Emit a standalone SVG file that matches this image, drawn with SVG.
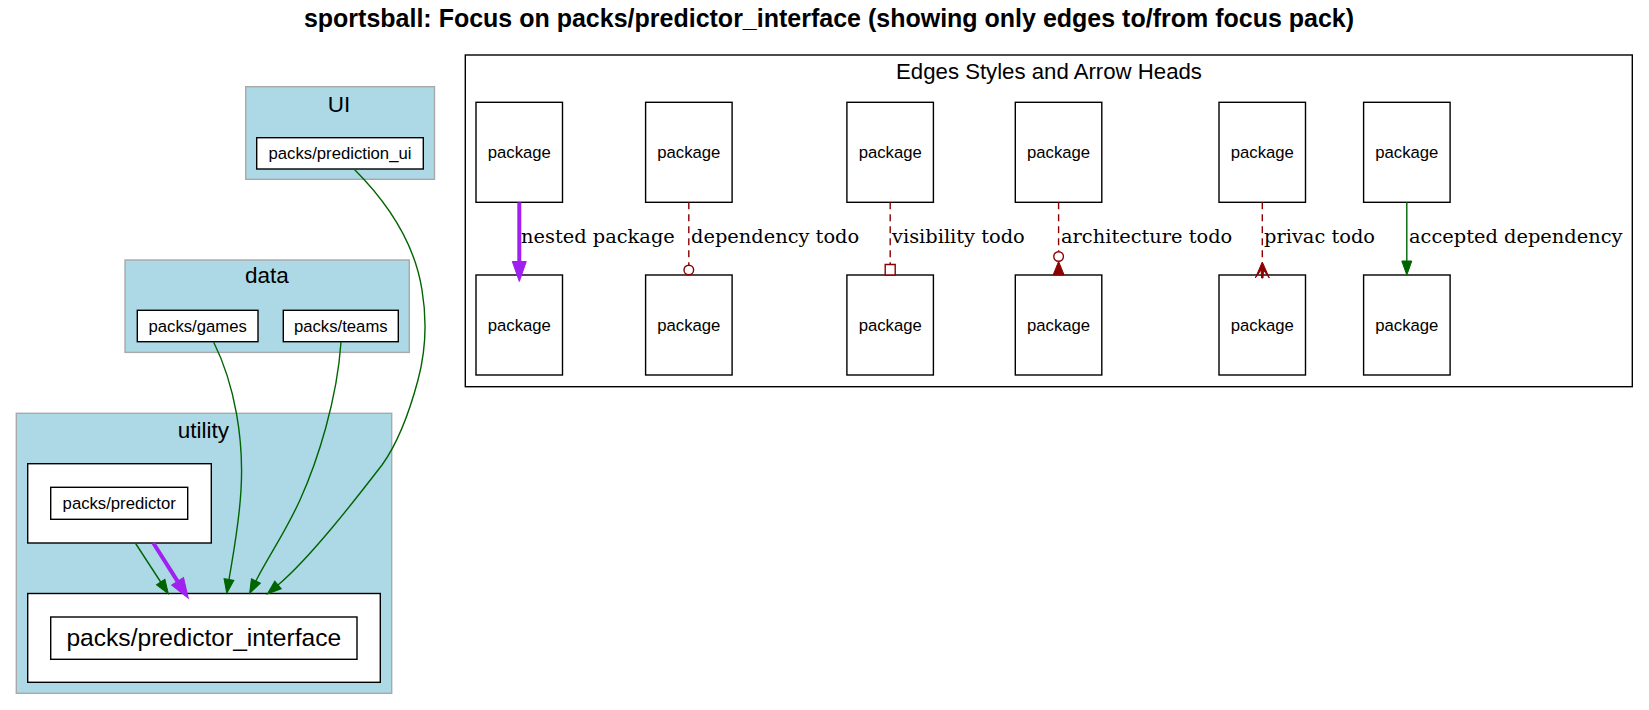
<svg xmlns="http://www.w3.org/2000/svg" width="1649" height="710" viewBox="0 0 1649 710">
<style>
.cl{fill:#add8e6;stroke:#a9a9a9;stroke-width:1.4}
.nd{fill:#fff;stroke:#000;stroke-width:1.4}
.t{font-family:"Liberation Sans",Arial,sans-serif;fill:#000;text-anchor:middle}
.n{font-size:16.7px}
.cll{font-size:22.5px}
.el{font-family:"DejaVu Serif",serif;font-size:19.4px;fill:#000}
.g{fill:none;stroke:#006400;stroke-width:1.4}
.p{fill:none;stroke:#a020f0;stroke-width:4}
.r{fill:none;stroke:#8b0000;stroke-width:1.4;stroke-dasharray:7,5}
</style>
<defs>
<marker id="aG" markerUnits="userSpaceOnUse" orient="auto" refX="0" refY="0" markerWidth="30" markerHeight="30" overflow="visible"><path d="M0,-5 L14,0 L0,5 Z" fill="#006400" stroke="#006400" stroke-width="1"/></marker>
<marker id="aP" markerUnits="userSpaceOnUse" orient="auto" refX="0" refY="0" markerWidth="30" markerHeight="30" overflow="visible"><path d="M0,-7 L20,0 L0,7 Z" fill="#a020f0" stroke="#a020f0" stroke-width="1"/></marker>
<marker id="aOdot" markerUnits="userSpaceOnUse" orient="auto" refX="0" refY="0" markerWidth="30" markerHeight="30" overflow="visible"><circle cx="5" cy="0" r="4.8" fill="#fff" stroke="#8b0000" stroke-width="1.4"/></marker>
<marker id="aObox" markerUnits="userSpaceOnUse" orient="auto" refX="0" refY="0" markerWidth="30" markerHeight="30" overflow="visible"><rect x="0" y="-5" width="10.5" height="10" fill="#fff" stroke="#8b0000" stroke-width="1.4"/></marker>
<marker id="aOdotInv" markerUnits="userSpaceOnUse" orient="auto" refX="0" refY="0" markerWidth="40" markerHeight="30" overflow="visible"><circle cx="5" cy="0" r="4.8" fill="#fff" stroke="#8b0000" stroke-width="1.4"/><path d="M10,0 L23.5,-5.5 L23.5,5.5 Z" fill="#8b0000" stroke="#8b0000" stroke-width="1"/></marker>
<marker id="aCrow" markerUnits="userSpaceOnUse" orient="auto" refX="0" refY="0" markerWidth="30" markerHeight="30" overflow="visible"><path d="M0,0 L16,-7 L8,-1.2 L16,-0.7 L16,0.7 L8,1.2 L16,7 Z" fill="#8b0000" stroke="#8b0000" stroke-width="1"/></marker>
</defs>
<rect x="0" y="0" width="1649" height="710" fill="#fff"/>
<text class="t" x="829" y="27" style="font-size:25px;font-weight:bold">sportsball: Focus on packs/predictor_interface (showing only edges to/from focus pack)</text>

<g id="cluster_UI">
<rect class="cl" x="245.7" y="86.7" width="188.8" height="92.6"/>
<text class="t cll" x="339" y="111.7">UI</text>
</g>
<g id="node_prediction_ui">
<rect class="nd" x="256.7" y="137.7" width="166.6" height="31.3"/>
<text class="t n" x="340" y="159">packs/prediction_ui</text>
</g>

<g id="cluster_data">
<rect class="cl" x="125" y="260" width="284.3" height="92.4"/>
<text class="t cll" x="267" y="283.3">data</text>
</g>
<g id="node_games">
<rect class="nd" x="137.3" y="310.3" width="120.7" height="31.4"/>
<text class="t n" x="197.7" y="332">packs/games</text>
</g>
<g id="node_teams">
<rect class="nd" x="283.3" y="310.3" width="115" height="31.4"/>
<text class="t n" x="340.8" y="332">packs/teams</text>
</g>

<g id="cluster_utility">
<rect class="cl" x="16.3" y="413.3" width="375.4" height="280"/>
<text class="t cll" x="203.3" y="438.3">utility</text>
</g>
<g id="node_predictor">
<rect class="nd" x="27.7" y="463.7" width="183.6" height="79.3"/>
<rect class="nd" x="50.7" y="487.3" width="137" height="32"/>
<text class="t n" x="119.2" y="509">packs/predictor</text>
</g>
<g id="node_predictor_interface">
<rect class="nd" x="27.7" y="593.5" width="352.6" height="88.8"/>
<rect class="nd" x="50.7" y="617" width="306.3" height="42.3"/>
<text class="t" x="203.8" y="646" style="font-size:24.6px">packs/predictor_interface</text>
</g>

<g id="cluster_legend">
<rect x="465.3" y="55" width="1167" height="331.7" fill="#fff" stroke="#000" stroke-width="1.4"/>
<text class="t" x="1049" y="79" style="font-size:22.2px">Edges Styles and Arrow Heads</text>
</g>
<g id="legend_nodes">
<g id="lg1a"><rect class="nd" x="476" y="102.3" width="86.5" height="100"/><text class="t n" x="519.3" y="158">package</text></g>
<g id="lg1b"><rect class="nd" x="476" y="275" width="86.5" height="100"/><text class="t n" x="519.3" y="331">package</text></g>
<g id="lg2a"><rect class="nd" x="645.6" y="102.3" width="86.5" height="100"/><text class="t n" x="688.8" y="158">package</text></g>
<g id="lg2b"><rect class="nd" x="645.6" y="275" width="86.5" height="100"/><text class="t n" x="688.8" y="331">package</text></g>
<g id="lg3a"><rect class="nd" x="846.9" y="102.3" width="86.5" height="100"/><text class="t n" x="890.2" y="158">package</text></g>
<g id="lg3b"><rect class="nd" x="846.9" y="275" width="86.5" height="100"/><text class="t n" x="890.2" y="331">package</text></g>
<g id="lg4a"><rect class="nd" x="1015.3" y="102.3" width="86.5" height="100"/><text class="t n" x="1058.6" y="158">package</text></g>
<g id="lg4b"><rect class="nd" x="1015.3" y="275" width="86.5" height="100"/><text class="t n" x="1058.6" y="331">package</text></g>
<g id="lg5a"><rect class="nd" x="1219" y="102.3" width="86.5" height="100"/><text class="t n" x="1262.3" y="158">package</text></g>
<g id="lg5b"><rect class="nd" x="1219" y="275" width="86.5" height="100"/><text class="t n" x="1262.3" y="331">package</text></g>
<g id="lg6a"><rect class="nd" x="1363.6" y="102.3" width="86.5" height="100"/><text class="t n" x="1406.8" y="158">package</text></g>
<g id="lg6b"><rect class="nd" x="1363.6" y="275" width="86.5" height="100"/><text class="t n" x="1406.8" y="331">package</text></g>
</g>

<g id="connectors">
<path class="g" d="M135.3,543 L160.7,582" marker-end="url(#aG)"/>
<path class="p" d="M153.3,543 L177.6,581.4" marker-end="url(#aP)"/>
<path class="g" d="M213.6,342 C235,385 244,440 241,490 C239,525 233,555 229,579.5" marker-end="url(#aG)"/>
<path class="g" d="M341,342 C337,400 318,460 300,500 C285,533 268,557 255.9,581" marker-end="url(#aG)"/>
<path class="g" d="M354,169 C390,205 415,245 422,290 C427,320 426,350 418,380 C410,410 400,440 382,465 C355,500 310,558 278,585" marker-end="url(#aG)"/>

<path class="p" d="M519.3,202.3 L519.3,261.5" marker-end="url(#aP)"/>
<text class="el" x="521" y="242.7">nested package</text>
<path class="r" d="M688.8,202.3 L688.8,265" marker-end="url(#aOdot)"/>
<text class="el" x="691" y="242.7">dependency todo</text>
<path class="r" d="M890.2,202.3 L890.2,264.5" marker-end="url(#aObox)"/>
<text class="el" x="892" y="242.7">visibility todo</text>
<path class="r" d="M1058.6,202.3 L1058.6,251.5" marker-end="url(#aOdotInv)"/>
<text class="el" x="1061" y="242.7">architecture todo</text>
<path class="r" d="M1262.3,202.3 L1262.3,262" marker-end="url(#aCrow)"/>
<text class="el" x="1264" y="242.7">privac todo</text>
<path class="g" d="M1406.8,202.3 L1406.8,261" marker-end="url(#aG)"/>
<text class="el" x="1409" y="242.7">accepted dependency</text>
</g>
</svg>
